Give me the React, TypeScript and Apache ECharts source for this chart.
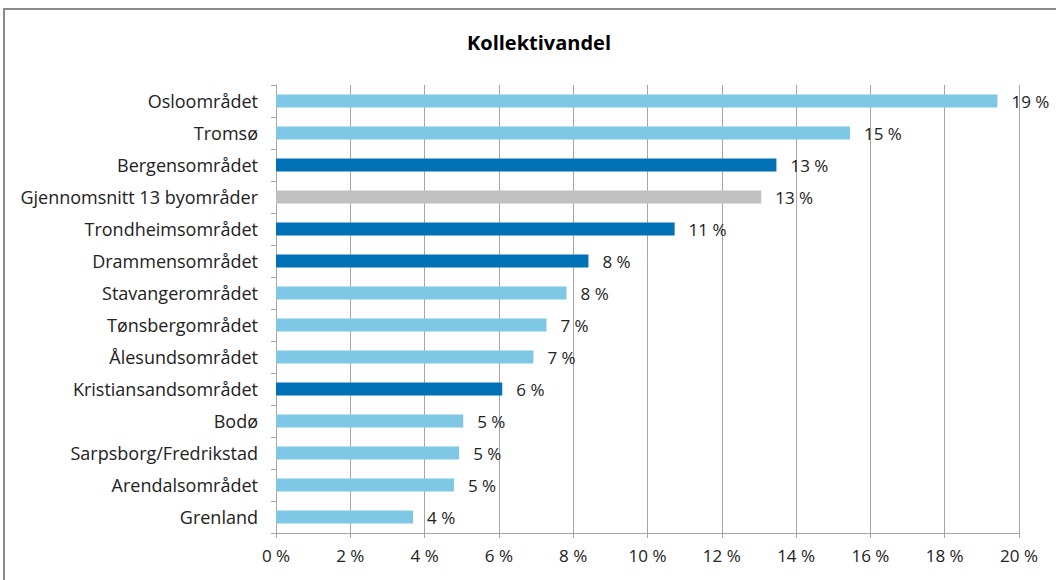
import React, { useEffect, useRef } from "react";
import * as echarts from "echarts";

const categories = [
  "Osloområdet",
  "Tromsø",
  "Bergensområdet",
  "Gjennomsnitt 13 byområder",
  "Trondheimsområdet",
  "Drammensområdet",
  "Stavangerområdet",
  "Tønsbergområdet",
  "Ålesundsområdet",
  "Kristiansandsområdet",
  "Bodø",
  "Sarpsborg/Fredrikstad",
  "Arendalsområdet",
  "Grenland",
];
const values = [19.42, 15.45, 13.47, 13.06, 10.73, 8.41, 7.82, 7.28, 6.93, 6.09, 5.04, 4.93, 4.79, 3.69];
// group: 0 = light, 1 = dark, 2 = average
const groups = [0, 0, 1, 2, 1, 1, 0, 0, 0, 1, 0, 0, 0, 0];
const groupColors = ["#7ec8e6", "#0071b5", "#c0c0c0"];
const xTicks = [0, 2, 4, 6, 8, 10, 12, 14, 16, 18, 20];

const FONT = "'Open Sans', sans-serif";

export default function App() {
  const ref = useRef<HTMLDivElement>(null);
  useEffect(() => {
    if (!ref.current) return;
    const chart = echarts.init(ref.current, null, { renderer: "svg" });
    const cats = categories.slice().reverse();
    const vals = values.slice().reverse();
    const grps = groups.slice().reverse();
    chart.setOption({
      animation: false,
      backgroundColor: "#ffffff",
      title: {
        text: "Kollektivandel",
        left: 534,
        top: 27,
        textAlign: "center",
        textStyle: { fontFamily: FONT, fontSize: 20, fontWeight: "bold", color: "#000" },
      },
      graphic: [
        {
          type: "rect",
          shape: { x: 4, y: 9, width: 1100, height: 620 },
          style: { fill: "none", stroke: "#8a8a8a", lineWidth: 2 },
          silent: true,
        },
      ],
      grid: { left: 276, right: 37, top: 85, bottom: 47, containLabel: false },
      xAxis: {
        type: "value",
        min: xTicks[0],
        max: xTicks[xTicks.length - 1],
        interval: 2,
        axisLine: { show: true, lineStyle: { color: "#a6a6a6", width: 1 } },
        axisTick: { show: true, length: 5, lineStyle: { color: "#a6a6a6" } },
        splitLine: { show: true, lineStyle: { color: "#a6a6a6", width: 1 } },
        axisLabel: {
          formatter: (v: number) => v + " %",
          fontFamily: FONT,
          fontSize: 17,
          color: "#222",
          margin: 14,
        },
      },
      yAxis: {
        type: "category",
        data: cats,
        axisLine: { show: true, lineStyle: { color: "#a6a6a6", width: 1 } },
        axisTick: { show: true, length: 5, lineStyle: { color: "#a6a6a6" } },
        axisLabel: { fontFamily: FONT, fontSize: 18, color: "#222", margin: 18 },
      },
      series: [
        {
          type: "bar",
          barWidth: 13,
          data: vals.map((v, i) => ({
            value: v,
            itemStyle: { color: groupColors[grps[i]] },
          })),
          label: {
            show: true,
            position: "right",
            distance: 14,
            formatter: (p: any) => Math.round(p.value) + " %",
            fontFamily: FONT,
            fontSize: 17,
            color: "#222",
          },
        },
      ],
    });
    return () => chart.dispose();
  }, []);
  return (
    <div
      ref={ref}
      style={{ position: "fixed", left: 0, top: 0, width: 1056, height: 580 }}
    />
  );
}
